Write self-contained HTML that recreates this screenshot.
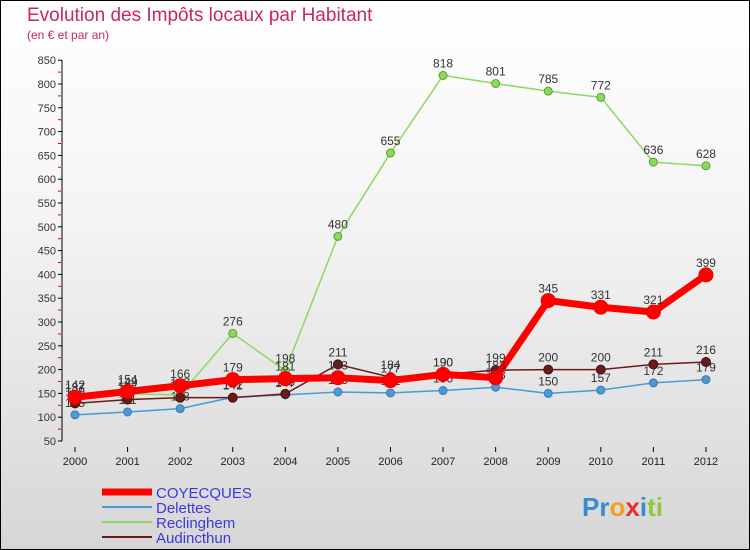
<!DOCTYPE html>
<html><head><meta charset="utf-8"><style>
body{margin:0}
#c{position:relative;width:748px;height:548px;border:1px solid #000;background:linear-gradient(#fff 0%,#f4f4f4 40%,#d6d6d6 100%);font-family:"Liberation Sans",sans-serif;overflow:hidden}
.t{position:absolute;color:#c8285a}
</style></head><body>
<div id="c">
<div class="t" style="left:26px;top:4px;font-size:19px">Evolution des Impôts locaux par Habitant</div>
<div class="t" style="left:26px;top:27px;font-size:12px">(en € et par an)</div>
<svg id="s" width="750" height="550" style="position:absolute;left:-1px;top:-1px" font-family="Liberation Sans, sans-serif"></svg>
</div>
<script>
const years=["2000","2001","2002","2003","2004","2005","2006","2007","2008","2009","2010","2011","2012"];
const yTicks=[50,100,150,200,250,300,350,400,450,500,550,600,650,700,750,800,850];
const coyecques=[142,154,166,179,181,183,177,190,183,345,331,321,399];
const delettes=[105,111,118,142,147,153,151,156,163,150,157,172,179];
const reclinghem=[137,149,147,276,198,480,655,818,801,785,772,636,628];
const audincthun=[129,137,141,141,149,211,184,190,199,200,200,211,216];
const s=document.getElementById('s');const NS="http://www.w3.org/2000/svg";
const X=i=>75+i*52.58, Y=v=>441-(v-50)*0.476;
function el(t,a,p){const e=document.createElementNS(NS,t);for(const k in a)e.setAttribute(k,a[k]);(p||s).appendChild(e);return e;}
let ax=el('line',{x1:62,y1:60,x2:62,y2:441,stroke:'#000'});


yTicks.forEach(v=>{el('line',{x1:58,y1:Y(v),x2:62,y2:Y(v),stroke:'#000'});
 if(v<850) el('line',{x1:58,y1:Y(v+25),x2:61,y2:Y(v+25),stroke:'#e00'});
 const t=el('text',{x:56,y:Y(v)+4,'text-anchor':'end','font-size':11,fill:'#333'});t.textContent=v;
 
 });
years.forEach((y,i)=>{el('line',{x1:X(i),y1:447,x2:X(i),y2:452,stroke:'#000'});
 const t=el('text',{x:X(i),y:465,'text-anchor':'middle','font-size':11,fill:'#222'});t.textContent=y;
 
 });
function series(d,c,w,r,name,lc){
 const g=el('g',{});
 
 
 el('polyline',{points:d.map((v,i)=>X(i)+','+Y(v)).join(' '),fill:'none',stroke:c,'stroke-width':w},g);
 d.forEach((v,i)=>{const p=el('circle',{cx:X(i),cy:Y(v),r:r,fill:c,stroke:lc,'stroke-width':1},g);
  
  
  const t=el('text',{x:X(i),y:Y(v)-8,'text-anchor':'middle','font-size':12,fill:'#333'},g);t.textContent=v;});
}
series(delettes,'#4a9ad4',1.5,4,'delettes','#3a7ab4');
series(reclinghem,'#8cd860',1.5,4,'reclinghem','#5aa030');
series(audincthun,'#6b1a1a',1.5,4.5,'audincthun','#401010');
series(coyecques,'#f00',7,7,'coyecques','#e00');
const leg=[['COYECQUES','#f00',7],['Delettes','#4a9ad4',2],['Reclinghem','#8cd860',2],['Audincthun','#6b1a1a',2]];
leg.forEach((l,i)=>{const g=el('g',{});
 
 
 const y=492+i*15;el('line',{x1:102,y1:y,x2:152,y2:y,stroke:l[1],'stroke-width':l[2]},g);
 const t=el('text',{x:156,y:y+6,'font-size':15,fill:'#3a3adc'},g);t.textContent=l[0];});
const lg=el('text',{x:582,y:516,'font-size':26,'font-weight':'bold',fill:'#f0a020'});


lg.innerHTML='<tspan fill="#3a8ad0">Pr</tspan><tspan fill="#f0a020">o</tspan><tspan fill="#e03030">x</tspan><tspan fill="#3a8ad0">i</tspan><tspan fill="#8cc840">ti</tspan>';
</script>
</body></html>
